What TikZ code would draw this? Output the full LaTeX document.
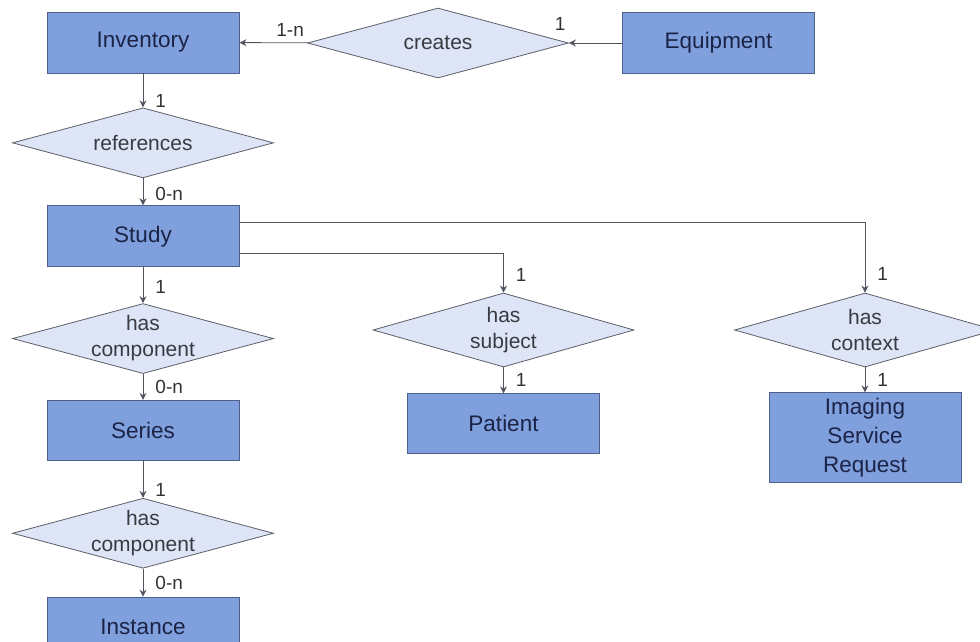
\documentclass[tikz,border=0pt]{standalone}
\usepackage{fontspec}
\setmainfont{Liberation Sans}
\usepackage{xcolor}
\usetikzlibrary{shapes.geometric, arrows.meta, positioning}

\definecolor{entFill}{HTML}{7F9FDD}
\definecolor{entLine}{HTML}{4E5F8C}
\definecolor{entText}{HTML}{1B2447}
\definecolor{relFill}{HTML}{DDE5F6}
\definecolor{relLine}{HTML}{5C5E68}
\definecolor{relText}{HTML}{3A3B42}
\definecolor{lnk}{HTML}{50545E}

\begin{document}
\begin{tikzpicture}[
        x=1pt, y=-1pt,
        >={Stealth[length=7pt, width=7pt]},
        line width=0.9pt,
        entity/.style={
            draw=entLine,
            fill=entFill,
            line width=0.9pt,
            text=entText,
            align=center,
            font=\fontsize{22.5}{29}\selectfont,
            minimum width=192pt,
            minimum height=61pt
        },
        rel/.style={
            diamond,
            draw=relLine,
            fill=relFill,
            line width=0.8pt,
            inner sep=0pt,
            minimum width=261pt,
            minimum height=70pt
        },
        reltext/.style={
            text=relText,
            align=center,
            font=\fontsize{21}{26}\selectfont
        },
        card/.style={
            text=black!80,
            inner sep=3pt,
            font=\fontsize{19}{22}\selectfont
        },
        link/.style={draw=lnk, ->}
    ]
        \useasboundingbox (0,0) rectangle (980,642);

        \node[entity] (inventory) at (143,42.5) {Inventory};
        \node[entity] (equipment) at (718.5,43) {Equipment};
        \node[rel, label={[reltext]center:creates}] (creates) at (438,43) {};

        \node[rel, below=34pt of inventory, label={[reltext]center:references}] (references) {};
        \node[entity, below=27pt of references] (study) {Study};
        \node[rel, below=36pt of study, label={[reltext]center:has\\component}] (hasComp) {};
        \node[entity, below=26pt of hasComp, minimum height=60pt] (series) {Series};
        \node[rel, below=37pt of series, label={[reltext]center:has\\component}] (hasCompB) {};
        \node[entity, below=28pt of hasCompB, minimum height=60pt] (instance) {Instance};

        \node[rel, minimum height=74pt, label={[reltext]center:has\\subject}] (hasSubj) at (503.5,330) {};
        \node[entity, below=26pt of hasSubj, minimum height=60pt] (patient) {Patient};

        \node[rel, minimum height=74pt, label={[reltext]center:has\\context}] (hasCtx) at (865,330) {};
        \node[entity, below=25pt of hasCtx, minimum height=90pt] (imgReq) {Imaging\\Service\\Request};

        \draw[link] (equipment) -- (creates) node[card, pos=1, anchor=south east, yshift=9pt] {1};
        \draw[link] (creates) -- (inventory) node[card, pos=0.26, above, yshift=3pt] {1-n};

        \draw[link] (inventory) -- (references) node[card, pos=0.8, right, xshift=9pt] {1};
        \draw[link] (references) -- (study) node[card, pos=0.6, right, xshift=9pt] {0-n};
        \draw[link] (study) -- (hasComp) node[card, pos=0.55, right, xshift=9pt] {1};
        \draw[link] (hasComp) -- (series) node[card, pos=0.5, right, xshift=9pt] {0-n};
        \draw[link] (series) -- (hasCompB) node[card, pos=0.8, right, xshift=9pt] {1};
        \draw[link] (hasCompB) -- (instance) node[card, pos=0.5, right, xshift=9pt] {0-n};

        \draw[link] ([yshift=-17pt]study.east) -| (hasSubj.north) node[card, pos=0.77, right, xshift=9pt] {1};
        \draw[link] ([yshift=14pt]study.east) -| (hasCtx.north) node[card, pos=0.87, right, xshift=9pt] {1};
        \draw[link] (hasSubj) -- (patient) node[card, pos=0.5, right, xshift=9pt] {1};
        \draw[link] (hasCtx) -- (imgReq) node[card, pos=0.5, right, xshift=9pt] {1};

    \end{tikzpicture}
\end{document}
